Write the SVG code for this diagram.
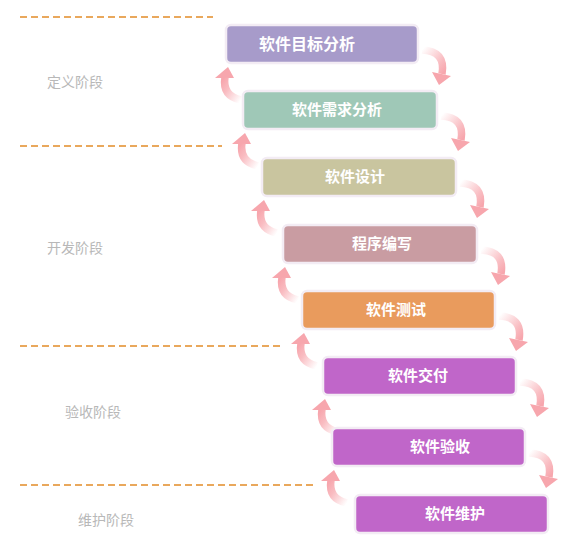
<svg xmlns="http://www.w3.org/2000/svg" xmlns:xlink="http://www.w3.org/1999/xlink" width="579" height="553" viewBox="0 0 579 553">
  <defs>
    <style>
      .phase-line { stroke: #e9a85c; stroke-width: 2; stroke-dasharray: 7 4; fill: none; }
      .phase { font-family: "Noto Sans CJK SC", "Noto Sans", sans-serif; font-size: 14px; fill: #b8b8b8; text-anchor: middle; }
      .box { stroke: #f3ecf4; stroke-width: 2.5; }
      .label { font-family: "Noto Sans CJK SC", "Noto Sans", sans-serif; font-size: 15px; font-weight: bold; fill: #ffffff; text-anchor: middle; }
    </style>
    <linearGradient id="gDown" x1="0" y1="0" x2="1" y2="1">
      <stop offset="0" stop-color="#f8b0b6" stop-opacity="0"/>
      <stop offset="0.7" stop-color="#f8b0b6" stop-opacity="0.85"/>
      <stop offset="1" stop-color="#f7a6ad"/>
    </linearGradient>
    <linearGradient id="gUp" x1="0" y1="0" x2="1" y2="1">
      <stop offset="0" stop-color="#f7a6ad"/>
      <stop offset="0.35" stop-color="#f8b0b6" stop-opacity="0.85"/>
      <stop offset="1" stop-color="#f8b0b6" stop-opacity="0"/>
    </linearGradient>
    <g id="arrowDown">
      <path d="M4,-13 Q28,-12 24,11" fill="none" stroke="url(#gDown)" stroke-width="7.5"/>
      <polygon points="14,9 33,13 21,22" fill="#f7a6ad"/>
    </g>
    <g id="arrowUp">
      <polygon points="2,4 -11,15 8,15" fill="#f7a6ad"/>
      <path d="M-1,14 Q-4,33 15,37" fill="none" stroke="url(#gUp)" stroke-width="7.5"/>
    </g>
  </defs>

  <rect width="579" height="553" fill="#ffffff"/>

  <g id="phases">
    <line class="phase-line" x1="20" y1="17" x2="213" y2="17"/>
    <line class="phase-line" x1="20" y1="146" x2="222" y2="146"/>
    <line class="phase-line" x1="20" y1="346" x2="282" y2="346"/>
    <line class="phase-line" x1="20" y1="485" x2="313" y2="485"/>
    <text class="phase" x="75" y="87">定义阶段</text>
    <text class="phase" x="75" y="253">开发阶段</text>
    <text class="phase" x="93" y="417">验收阶段</text>
    <text class="phase" x="106" y="525">维护阶段</text>
  </g>

  <g id="connectors">
    <use xlink:href="#arrowDown" x="418" y="63"/>
    <use xlink:href="#arrowDown" x="437" y="129"/>
    <use xlink:href="#arrowDown" x="456" y="196"/>
    <use xlink:href="#arrowDown" x="477" y="263"/>
    <use xlink:href="#arrowDown" x="495" y="329"/>
    <use xlink:href="#arrowDown" x="516" y="395"/>
    <use xlink:href="#arrowDown" x="525" y="466"/>
    <use xlink:href="#arrowUp" x="226" y="63"/>
    <use xlink:href="#arrowUp" x="243" y="129"/>
    <use xlink:href="#arrowUp" x="262" y="196"/>
    <use xlink:href="#arrowUp" x="283" y="263"/>
    <use xlink:href="#arrowUp" x="302" y="329"/>
    <use xlink:href="#arrowUp" x="323" y="395"/>
    <use xlink:href="#arrowUp" x="332" y="466"/>
  </g>

  <g id="n1">
    <rect class="box" x="226" y="25" width="192" height="38" rx="5" fill="#a79bca"/>
    <text class="label" x="307" y="50" style="font-size:16px">软件目标分析</text>
  </g>
  <g id="n2">
    <rect class="box" x="243" y="91" width="194" height="38" rx="5" fill="#9fc8b7"/>
    <text class="label" x="337" y="115">软件需求分析</text>
  </g>
  <g id="n3">
    <rect class="box" x="262" y="158" width="194" height="38" rx="5" fill="#c9c59f"/>
    <text class="label" x="355" y="182">软件设计</text>
  </g>
  <g id="n4">
    <rect class="box" x="283" y="225" width="194" height="38" rx="5" fill="#c99ca2"/>
    <text class="label" x="382" y="249">程序编写</text>
  </g>
  <g id="n5">
    <rect class="box" x="302" y="291" width="193" height="38" rx="5" fill="#e99b5d"/>
    <text class="label" x="396" y="315">软件测试</text>
  </g>
  <g id="n6">
    <rect class="box" x="323" y="357" width="193" height="38" rx="5" fill="#c066c9"/>
    <text class="label" x="418" y="381">软件交付</text>
  </g>
  <g id="n7">
    <rect class="box" x="332" y="428" width="193" height="38" rx="5" fill="#c066c9"/>
    <text class="label" x="440" y="452">软件验收</text>
  </g>
  <g id="n8">
    <rect class="box" x="355" y="495" width="193" height="38" rx="5" fill="#c066c9"/>
    <text class="label" x="455" y="519">软件维护</text>
  </g>
</svg>
